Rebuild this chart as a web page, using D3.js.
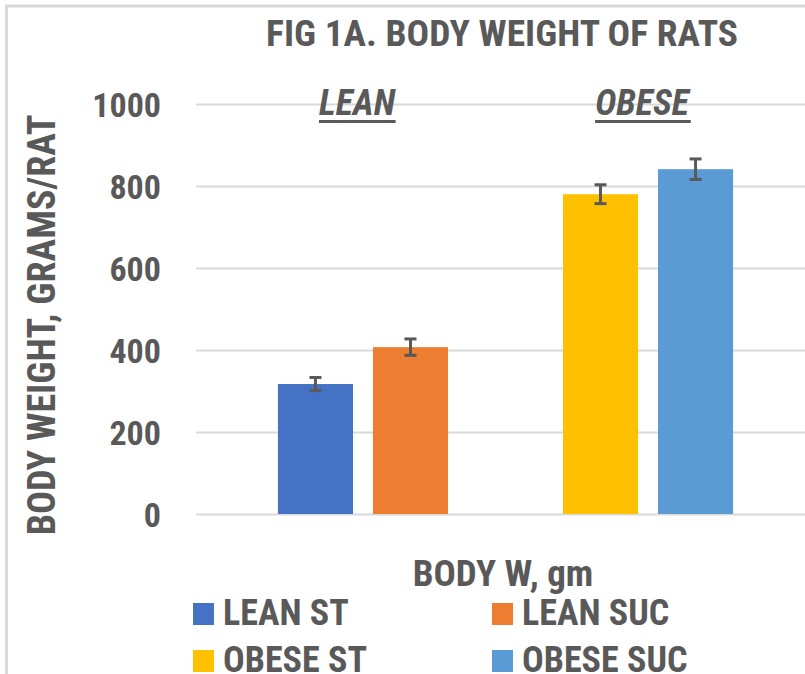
<!DOCTYPE html>
<html>
<head>
<meta charset="utf-8">
<script src="https://cdn.jsdelivr.net/npm/d3@7"></script>
<style>
  body { margin: 0; background: #fff; }
  svg text { font-family: "Liberation Sans Narrow", "Roboto Condensed", "DejaVu Sans Condensed", sans-serif; font-weight: bold; fill: #595959; }
</style>
</head>
<body>
<svg id="chart" width="805" height="674"></svg>
<script>
// data
const category = ["BODY W, gm"];
const seriesNames = ["LEAN ST", "LEAN SUC", "", "OBESE ST", "OBESE SUC"]; // blank slot separates the groups
const seriesValues = [317, 407, null, 780, 841];
const seriesErrors = [16, 20, null, 23, 25];
const seriesColors = ["#4472c4", "#ed7d31", null, "#ffc000", "#5b9bd5"];
const yTicks = [0, 200, 400, 600, 800, 1000];
const groupLabels = ["LEAN", "OBESE"];

const svg = d3.select("#chart");
// plot area runs past the right edge of the picture
const margin = { top: 104, right: -10, bottom: 160, left: 196 };
const width = 805 - margin.left - margin.right;
const height = 674 - margin.top - margin.bottom;

// chart frame (right and bottom edges fall outside the picture)
svg.append("path")
    .attr("d", "M6.5,674 V6 H805")
    .attr("fill", "none")
    .attr("stroke", "#d9d9d9")
    .attr("stroke-width", 3);

const g = svg.append("g")
    .attr("transform", `translate(${margin.left},${margin.top})`);

const y = d3.scaleLinear().domain([0, 1000]).range([height, 0]);

const x = d3.scaleBand().domain(category).range([0, width]).paddingInner(0).paddingOuter(0.18);
const xs = d3.scaleBand().domain(d3.range(seriesNames.length)).range([0, x.bandwidth()]).paddingInner(0.21);

// gridlines
g.append("g")
    .call(d3.axisLeft(y).tickValues(yTicks).tickSize(-width).tickFormat(""))
    .call(a => a.select(".domain").remove())
    .call(a => a.selectAll("line").attr("stroke", "#d9d9d9").attr("stroke-width", 2));

// tick labels
g.append("g")
    .call(d3.axisLeft(y).tickValues(yTicks).tickSize(0).tickPadding(35).tickFormat(d3.format("d")))
    .call(a => a.select(".domain").remove())
    .call(a => a.selectAll("text").attr("font-size", 34).attr("fill", "#595959")
        .style("font-family", null).attr("dy", "0.36em"));

const barData = seriesNames.map((name, i) => ({
    name, i, value: seriesValues[i], err: seriesErrors[i], color: seriesColors[i]
})).filter(d => d.value != null);

const cx = x(category[0]);

g.selectAll(".bar")
    .data(barData)
    .enter().append("rect")
    .attr("class", "bar")
    .attr("x", d => cx + xs(d.i))
    .attr("y", d => y(d.value))
    .attr("width", xs.bandwidth())
    .attr("height", d => y(0) - y(d.value))
    .attr("fill", d => d.color);

// error bars
const eb = g.selectAll(".err")
    .data(barData)
    .enter().append("g")
    .attr("class", "err")
    .attr("stroke", "#595959")
    .attr("stroke-width", 3);

eb.append("line")
    .attr("x1", d => cx + xs(d.i) + xs.bandwidth() / 2)
    .attr("x2", d => cx + xs(d.i) + xs.bandwidth() / 2)
    .attr("y1", d => y(d.value + d.err))
    .attr("y2", d => y(d.value - d.err));

[1, -1].forEach(s => {
    eb.append("line")
        .attr("x1", d => cx + xs(d.i) + xs.bandwidth() / 2 - 6)
        .attr("x2", d => cx + xs(d.i) + xs.bandwidth() / 2 + 6)
        .attr("y1", d => y(d.value + s * d.err))
        .attr("y2", d => y(d.value + s * d.err));
});

// group annotations over each pair
groupLabels.forEach((lab, k) => {
    const first = cx + xs(k * 3);
    const last = cx + xs(k * 3 + 1) + xs.bandwidth();
    const mid = (first + last) / 2 - 6;
    const t = g.append("text")
        .attr("x", mid)
        .attr("y", y(1000) + 11)
        .attr("text-anchor", "middle")
        .attr("font-size", 36)
        .attr("font-style", "italic")
        .text(lab);
    const bb = t.node().getBBox();
    g.append("rect")
        .attr("x", bb.x)
        .attr("y", y(1000) + 16)
        .attr("width", bb.width)
        .attr("height", 3)
        .attr("fill", "#595959");
});

// title
svg.append("text")
    .attr("x", 502)
    .attr("y", 46)
    .attr("text-anchor", "middle")
    .attr("font-size", 37.5)
    .text("FIG 1A. BODY WEIGHT OF RATS");

// y axis title
svg.append("text")
    .attr("transform", "translate(55,325) rotate(-90)")
    .attr("text-anchor", "middle")
    .attr("font-size", 38)
    .text("BODY WEIGHT, GRAMS/RAT");

// x axis title
svg.append("text")
    .attr("x", 503)
    .attr("y", 586)
    .attr("text-anchor", "middle")
    .attr("font-size", 37)
    .text(category[0]);

// legend
const legendItems = barData.map(d => ({ name: d.name, color: d.color }));
const legend = svg.selectAll(".legend")
    .data(legendItems)
    .enter().append("g")
    .attr("class", "legend")
    .attr("transform", (d, i) => `translate(${193 + (i % 2) * 299},${603 + Math.floor(i / 2) * 47})`);

legend.append("rect")
    .attr("width", 21)
    .attr("height", 22)
    .attr("fill", d => d.color);

legend.append("text")
    .attr("x", 30)
    .attr("y", 22)
    .attr("font-size", 36)
    .text(d => d.name);
</script>
</body>
</html>
